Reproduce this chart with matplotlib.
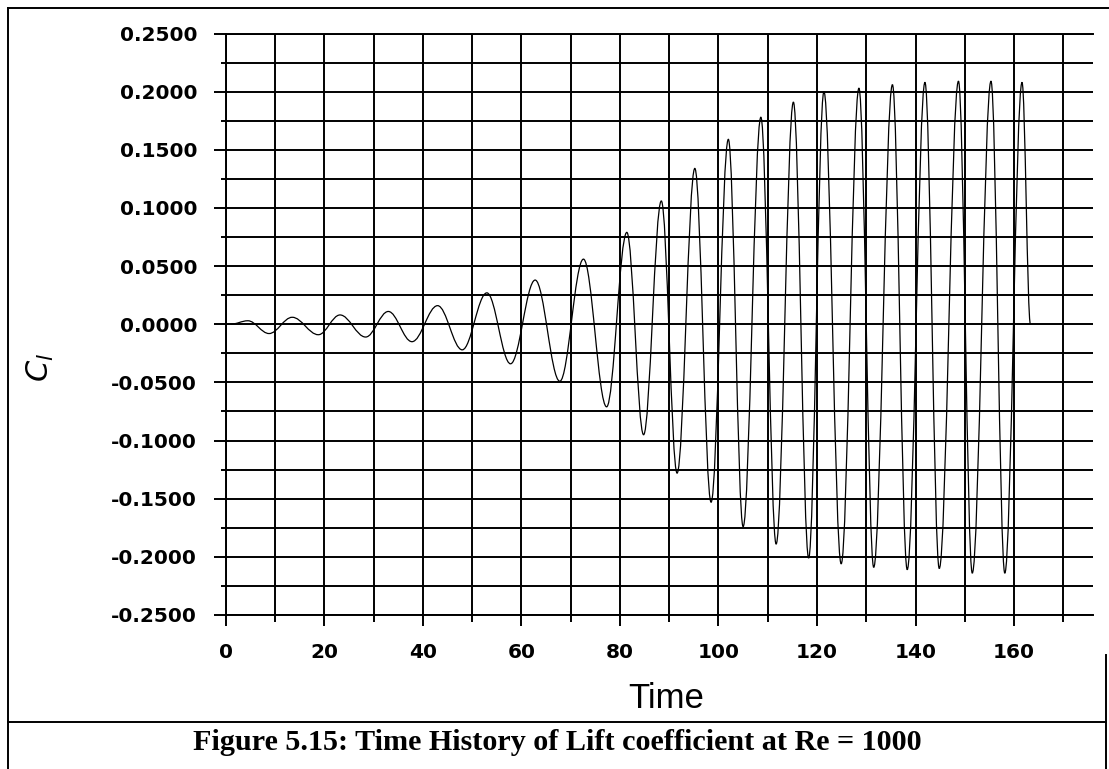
import numpy as np
import matplotlib
matplotlib.use("Agg")
import matplotlib.pyplot as plt
from matplotlib.path import Path
from matplotlib.patches import PathPatch
from matplotlib.lines import Line2D

# ---- data (extrema of the lift-coefficient signal) ----
time_ext = [1.0, 4.5, 8.8, 13.5, 18.8, 23.2, 28.4, 33.0, 37.8, 43.0, 48.0,
            53.0, 57.8, 62.8, 67.8, 72.6, 77.3, 81.4, 84.8, 88.4, 91.6, 95.2,
            98.5, 102.0, 105.0, 108.6, 111.7, 115.2, 118.3, 121.4, 124.9,
            128.5, 131.5, 135.3, 138.3, 141.9, 144.8, 148.7, 151.5, 155.3,
            158.1, 161.6, 163.3]
cl_ext = [0.0, 0.003, -0.008, 0.006, -0.009, 0.008, -0.011, 0.011, -0.015,
          0.016, -0.022, 0.027, -0.034, 0.038, -0.049, 0.056, -0.071, 0.079,
          -0.095, 0.106, -0.128, 0.134, -0.153, 0.159, -0.174, 0.178, -0.189,
          0.191, -0.201, 0.200, -0.206, 0.203, -0.209, 0.206, -0.211, 0.208,
          -0.210, 0.209, -0.214, 0.209, -0.214, 0.208, 0.0]

x_major = [0, 20, 40, 60, 80, 100, 120, 140, 160]
x_minor = [10, 30, 50, 70, 90, 110, 130, 150, 170]
y_major = [-0.25, -0.20, -0.15, -0.10, -0.05, 0.0, 0.05, 0.10, 0.15, 0.20, 0.25]
y_minor = [-0.225, -0.175, -0.125, -0.075, -0.025, 0.025, 0.075, 0.125, 0.175, 0.225]
y_labels = [f"{v:.4f}" for v in y_major]
x_labels = [str(v) for v in x_major]

W, H = 1109, 769
fig = plt.figure(figsize=(W / 100, H / 100), dpi=100)
fig.patch.set_facecolor("white")

def fx(px):
    return px / W

def fy(py):
    return 1 - py / H

ax = fig.add_axes([fx(225.7), fy(615), fx(1093) - fx(225.7), fy(33.5) - fy(615)])
ax.set_xlim(0, 176)
ax.set_ylim(-0.25, 0.25)

lw_grid = 1.4
ax.set_xticks(x_major)
ax.set_xticks(x_minor, minor=True)
ax.set_yticks(y_major)
ax.set_yticks(y_minor, minor=True)
ax.set_xticklabels(x_labels)
ax.set_yticklabels(y_labels)
ax.grid(which="both", color="black", linewidth=lw_grid)
ax.spines["right"].set_visible(False)
for side in ["left", "top", "bottom"]:
    ax.spines[side].set_linewidth(lw_grid)

ax.tick_params(axis="y", which="major", length=9, width=lw_grid, pad=11.5)
ax.tick_params(axis="y", which="minor", length=3.6, width=lw_grid)
ax.tick_params(axis="x", which="major", length=8, width=lw_grid, pad=12)
ax.tick_params(axis="x", which="minor", length=5, width=lw_grid)
for lab in ax.get_xticklabels() + ax.get_yticklabels():
    lab.set_fontfamily("DejaVu Sans")
    lab.set_fontweight("bold")
    lab.set_fontsize(14.5)

# smooth signal drawn as cubic Bezier segments through the extrema
k = 0.3642
verts = [(time_ext[0], cl_ext[0])]
codes = [Path.MOVETO]
for i in range(len(time_ext) - 1):
    t0, v0 = time_ext[i], cl_ext[i]
    t1, v1 = time_ext[i + 1], cl_ext[i + 1]
    dt = t1 - t0
    verts += [(t0 + k * dt, v0), (t1 - k * dt, v1), (t1, v1)]
    codes += [Path.CURVE4, Path.CURVE4, Path.CURVE4]
ax.add_patch(PathPatch(Path(verts, codes), facecolor="none",
                       edgecolor="black", linewidth=0.9, zorder=3))

# axis labels
fig.text(fx(666), fy(698), "Time", ha="center", va="center",
         family="Liberation Sans", fontsize=25)
fig.text(fx(40), fy(367), r"$C_l$", ha="center", va="center",
         rotation=90, fontsize=22)

# caption
fig.text(fx(557), fy(742), "Figure 5.15: Time History of Lift coefficient at Re = 1000",
         ha="center", va="center", family="Liberation Serif",
         weight="bold", fontsize=21.7)

# page frame lines
def fline(x0, y0, x1, y1, lw=1.4):
    fig.add_artist(Line2D([fx(x0), fx(x1)], [fy(y0), fy(y1)],
                          color="black", linewidth=lw))

fline(8, 8, 1109, 8)
fline(8, 8, 8, 769)
fline(1106, 655, 1106, 769)
fline(8, 722, 1106, 722)

fig.savefig("out.png", dpi=100, facecolor="white")
